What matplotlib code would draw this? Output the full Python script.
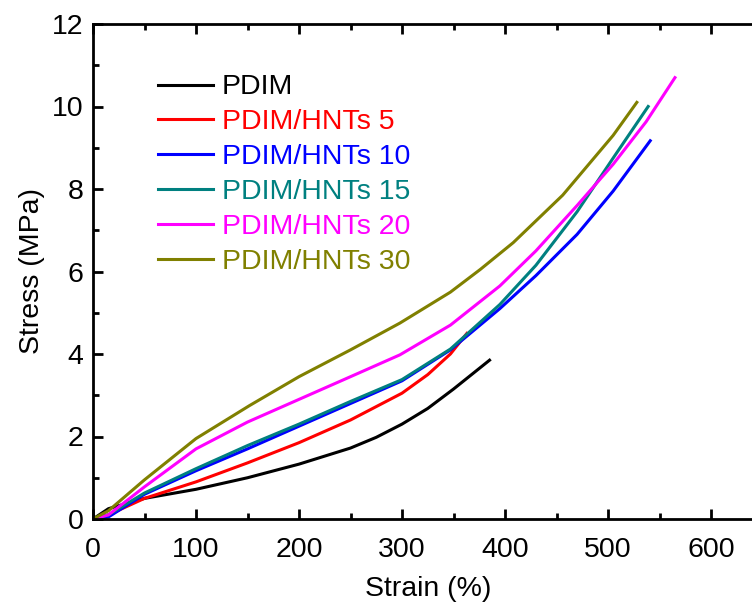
import matplotlib
matplotlib.use("Agg")
import matplotlib.pyplot as plt
from matplotlib.ticker import MultipleLocator

plt.rcParams['font.family'] = ['Liberation Sans', 'DejaVu Sans']

# stress-strain curves (strain %, stress MPa)
labels = ["PDIM", "PDIM/HNTs 5", "PDIM/HNTs 10", "PDIM/HNTs 15",
          "PDIM/HNTs 20", "PDIM/HNTs 30"]
colors = ["#000000", "#ff0000", "#0000ff", "#008080", "#ff00ff", "#808000"]

strain_0 = [0, 15, 50, 100, 150, 200, 250, 275, 300, 325, 350, 385]
stress_0 = [0, 0.25, 0.5, 0.72, 1.0, 1.33, 1.72, 1.98, 2.3, 2.68, 3.15, 3.85]

strain_5 = [0, 15, 50, 100, 150, 200, 250, 300, 325, 347, 363]
stress_5 = [0, 0.1, 0.5, 0.9, 1.36, 1.85, 2.4, 3.05, 3.5, 4.0, 4.5]

strain_10 = [0, 15, 50, 100, 150, 200, 250, 300, 347, 395, 430, 470, 505, 541]
stress_10 = [0, 0.05, 0.6, 1.17, 1.7, 2.25, 2.8, 3.35, 4.1, 5.1, 5.9, 6.9, 7.95, 9.17]

strain_15 = [0, 15, 50, 100, 150, 200, 250, 300, 347, 395, 430, 470, 505, 539]
stress_15 = [0, 0.1, 0.63, 1.22, 1.78, 2.3, 2.85, 3.38, 4.12, 5.2, 6.15, 7.45, 8.75, 10.0]

strain_20 = [0, 15, 50, 100, 150, 200, 250, 298, 347, 395, 430, 470, 505, 537, 565]
stress_20 = [0, 0.1, 0.78, 1.7, 2.35, 2.9, 3.45, 3.98, 4.7, 5.65, 6.5, 7.6, 8.6, 9.63, 10.7]

strain_30 = [0, 15, 50, 100, 152, 200, 250, 298, 347, 376, 408, 456, 505, 528]
stress_30 = [0, 0.2, 0.95, 1.95, 2.75, 3.45, 4.1, 4.75, 5.5, 6.05, 6.7, 7.85, 9.3, 10.1]

strains = [strain_0, strain_5, strain_10, strain_15, strain_20, strain_30]
stresses = [stress_0, stress_5, stress_10, stress_15, stress_20, stress_30]

fig = plt.figure(figsize=(7.52, 6.08), dpi=100)
ax = fig.add_axes([93 / 752, 89 / 608, 669.5 / 752, 495 / 608])

for x, y, lab, c in zip(strains, stresses, labels, colors):
    ax.plot(x, y, color=c, lw=2.2, label=lab)

ax.set_xlim(0, 650)
ax.set_ylim(0, 12)
ax.xaxis.set_major_locator(MultipleLocator(100))
ax.xaxis.set_minor_locator(MultipleLocator(50))
ax.yaxis.set_major_locator(MultipleLocator(2))
ax.yaxis.set_minor_locator(MultipleLocator(1))

for s in ax.spines.values():
    s.set_linewidth(2)
ax.tick_params(which="both", direction="in", top=True, right=True,
               width=2, labelsize=20.5, pad=7)
ax.tick_params(axis="x", which="both", pad=13)
ax.tick_params(which="major", length=7)
ax.tick_params(which="minor", length=4)

ax.set_xlabel("Strain (%)", fontsize=20.5, labelpad=9)
ax.set_ylabel("Stress (MPa)", fontsize=20.5, labelpad=5)

ax.legend(loc="upper left", bbox_to_anchor=(0.097, 0.898), frameon=False,
          fontsize=20.5, handlelength=1.95, handletextpad=0.3, labelspacing=0.31,
          borderpad=0, borderaxespad=0, labelcolor="linecolor")

fig.savefig("out.png", dpi=100, facecolor="white")
